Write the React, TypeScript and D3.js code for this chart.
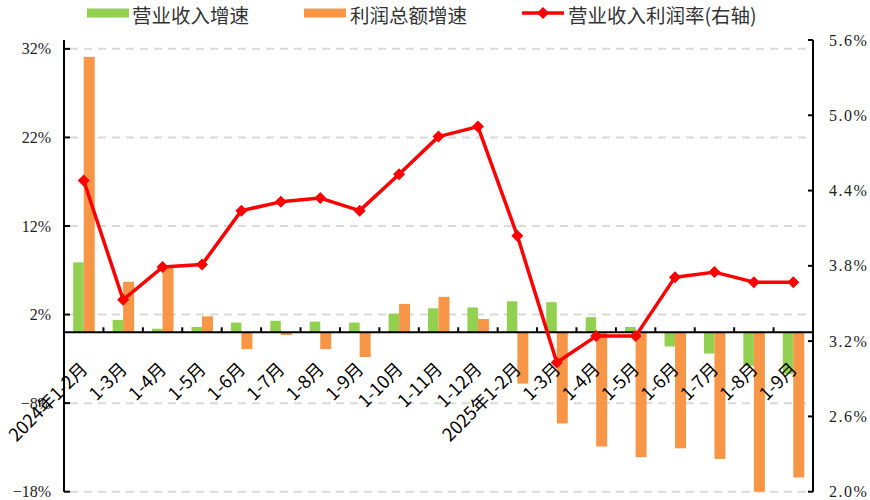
import React from "react";
import * as d3 from "d3";

const categories = [
  "2024年1-2月", "1-3月", "1-4月", "1-5月", "1-6月", "1-7月", "1-8月", "1-9月",
  "1-10月", "1-11月", "1-12月", "2025年1-2月", "1-3月", "1-4月", "1-5月",
  "1-6月", "1-7月", "1-8月", "1-9月",
];
const revenueGrowth = [7.9, 1.4, 0.4, 0.6, 1.1, 1.3, 1.2, 1.1, 2.1, 2.7, 2.8, 3.5, 3.4, 1.7, 0.6, -1.6, -2.4, -3.8, -4.7];
const profitGrowth = [31.1, 5.7, 7.3, 1.8, -1.9, -0.3, -1.9, -2.8, 3.2, 4.0, 1.5, -5.8, -10.3, -12.9, -14.1, -13.1, -14.3, -18.0, -16.4];
const profitMargin = [4.48, 3.53, 3.79, 3.81, 4.24, 4.31, 4.34, 4.24, 4.53, 4.83, 4.91, 4.04, 3.03, 3.24, 3.24, 3.71, 3.75, 3.67, 3.67];
const leftTicks = [32, 22, 12, 2, -8, -18];
const rightTicks = [5.6, 5.0, 4.4, 3.8, 3.2, 2.6, 2.0];
const legendLabels = ["营业收入增速", "利润总额增速", "营业收入利润率(右轴)"];

const W = 870, H = 500;
const X0 = 64, X1 = 813, YT = 40, YB = 491.7;
const GREEN = "#92d050", ORANGE = "#f79646", RED = "#ff0000";

export default function App() {
  const x = d3.scaleBand<number>().domain(d3.range(categories.length)).range([X0, X1]).padding(0);
  const yL = d3.scaleLinear().domain([-18, 33]).range([YB, YT]);
  const yR = d3.scaleLinear().domain([2.0, 5.6]).range([YB, YT]);
  const bw = 10.5;
  const cx = (i: number) => (x(i) as number) + x.bandwidth() / 2;
  const y0 = yL(0);
  const line = d3.line<number>().x((_, i) => cx(i)).y((d) => yR(d));
  const diamond = (px: number, py: number, r = 6) =>
    `M${px},${py - r}L${px + r},${py}L${px},${py + r}L${px - r},${py}Z`;
  const fmtL = (v: number) => (v < 0 ? "\u2212" + Math.abs(v) : String(v)) + "%";
  const fmtR = d3.format(".1f");
  const serif = "'Liberation Serif', 'DejaVu Serif', serif";
  const cjk = "'Noto Sans CJK SC', 'Noto Sans', sans-serif";

  return (
    <svg width={W} height={H} style={{ position: "absolute", left: 0, top: 0, background: "#fff" }}>
      {/* gridlines */}
      {leftTicks.map((t) => (
        <line key={"g" + t} x1={X0 + 6} x2={X1} y1={yL(t)} y2={yL(t)} stroke="#d9d9d9" strokeWidth={2} strokeDasharray="8,6" />
      ))}
      {/* bars */}
      {revenueGrowth.map((v, i) => (
        <rect key={"rg" + i} x={cx(i) - bw} width={bw} y={Math.min(yL(v), y0)} height={Math.abs(yL(v) - y0)} fill={GREEN} />
      ))}
      {profitGrowth.map((v, i) => (
        <rect key={"pg" + i} x={cx(i)} width={bw + 0.5} y={Math.min(yL(v), y0)} height={Math.abs(yL(v) - y0)} fill={ORANGE} />
      ))}
      {/* axes */}
      <line x1={X0} x2={X0} y1={YT} y2={YB} stroke="#000" strokeWidth={2} />
      <line x1={X1} x2={X1} y1={YT} y2={YB} stroke="#000" strokeWidth={2} />
      <line x1={X0} x2={X1} y1={y0} y2={y0} stroke="#000" strokeWidth={2} />
      {leftTicks.map((t) => (
        <g key={"lt" + t}>
          <line x1={X0} x2={X0 + 6} y1={yL(t)} y2={yL(t)} stroke="#000" strokeWidth={2} />
          <text x={51} y={yL(t)} dy="0.35em" textAnchor="end" fontFamily={serif} fontSize={16} fill="#222">
            {fmtL(t)}
          </text>
        </g>
      ))}
      {rightTicks.map((t) => (
        <g key={"rt" + t}>
          <line x1={X1 - 5} x2={X1} y1={yR(t)} y2={yR(t)} stroke="#000" strokeWidth={2} />
          <text x={829} y={yR(t)} dy="0.35em" textAnchor="start" fontFamily={serif} fontSize={16} fill="#222" letterSpacing={1.5}>
            {fmtR(t) + "%"}
          </text>
        </g>
      ))}
      {d3.range(1, categories.length).map((i) => (
        <line key={"ct" + i} x1={x(i) as number} x2={x(i) as number} y1={y0 - 5} y2={y0} stroke="#000" strokeWidth={2} />
      ))}
      {/* category labels */}
      {categories.map((c, i) => (
        <text key={"cl" + i} transform={`translate(${cx(i) + 5},${y0 + 38}) rotate(-45)`} textAnchor="end" fontFamily={cjk} fontSize={18} fill="#000">
          {c}
        </text>
      ))}
      {/* line */}
      <path d={line(profitMargin) || ""} fill="none" stroke={RED} strokeWidth={3.5} strokeLinejoin="round" />
      {profitMargin.map((v, i) => (
        <path key={"d" + i} d={diamond(cx(i), yR(v))} fill={RED} />
      ))}
      {/* legend */}
      <rect x={87} y={8.5} width={42} height={9} fill={GREEN} />
      <text x={132} y={22.5} fontFamily={cjk} fontSize={19.5} fill="#333">{legendLabels[0]}</text>
      <rect x={304} y={8.5} width={42} height={9} fill={ORANGE} />
      <text x={350} y={22.5} fontFamily={cjk} fontSize={19.5} fill="#333">{legendLabels[1]}</text>
      <line x1={522} x2={564} y1={13} y2={13} stroke={RED} strokeWidth={3.5} />
      <path d={diamond(543, 13)} fill={RED} />
      <text x={568} y={22.5} fontFamily={cjk} fontSize={19.5} fill="#333">{legendLabels[2]}</text>
    </svg>
  );
}
